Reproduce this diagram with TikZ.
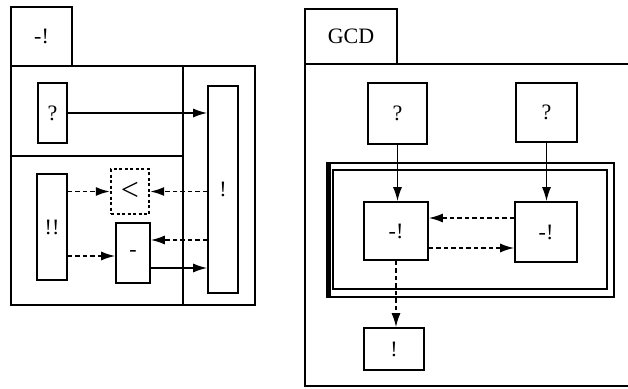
\documentclass[tikz,border=0pt]{standalone}
\usepackage{fontspec}
\setmainfont{Liberation Serif}
\usetikzlibrary{arrows.meta}
\tikzset{
  blk/.style={draw,line width=1.6pt,inner sep=0pt,font=\fontsize{22}{26}\selectfont},
  dblk/.style={blk,line width=2.4pt,dash pattern=on 3pt off 2.5pt},
  flow/.style={line width=1.6pt,-{Latex[length=14pt,width=9pt]}},
  dflow/.style={flow,dash pattern=on 4.5pt off 3pt},
  frame/.style={line width=1.6pt}
}
\begin{document}
\begin{tikzpicture}
[x=1pt,y=-1pt]
\useasboundingbox (0,0) rectangle (628,388);

\node[blk,minimum width=61,minimum height=59] (tabL) at (41.5,36.5) {-!};
\draw[frame] (11,66) rectangle (255,305);
\draw[frame] (183,66) -- (183,305);
\draw[frame] (11,156) -- (183,156);

\node[blk,minimum width=29,minimum height=60] (q) at (52.5,113) {?};
\node[blk,minimum width=30,minimum height=207] (bang) at (223,189.5) {!};
\node[blk,minimum width=30,minimum height=106] (dbang) at (52,227) {!!};
\node[dblk,minimum width=38,minimum height=45,font=\fontsize{32}{32}\selectfont] (lt) at (130,191.5) {<};
\node[blk,minimum width=34,minimum height=60] (minus) at (133,253) {-};

\draw[flow] (q.east) -- (q.east -| bang.west);
\draw[dflow] (lt.west -| dbang.east) -- (lt.west);
\draw[dflow] (lt.east -| bang.west) -- (lt.east);
\draw[dflow] ([yshift=13pt]minus.east -| bang.west) -- ([yshift=13pt]minus.east);
\draw[dflow] ([yshift=-3pt]minus.west -| dbang.east) -- ([yshift=-3pt]minus.west);
\draw[flow] ([yshift=-15pt]minus.east) -- ([yshift=-15pt]minus.east -| bang.west);

\node[blk,minimum width=92,minimum height=55] (tabR) at (351,36.5) {GCD};
\draw[frame] (629,64) -- (305,64) -- (305,386) -- (629,386);

\node[blk,minimum width=59,minimum height=61] (qa) at (397.5,113.5) {?};
\node[blk,minimum width=61,minimum height=59] (qb) at (546.5,112.5) {?};
\draw[frame,line width=2pt] (327,163) rectangle (614,297);
\draw[line width=4.5pt] (328.5,163) -- (328.5,297);
\draw[frame] (333,170) rectangle (607,289);
\node[blk,minimum width=64,minimum height=58] (na) at (396,231) {-!};
\node[blk,minimum width=62,minimum height=60] (nb) at (546,232) {-!};
\node[blk,minimum width=60,minimum height=42] (ex) at (394,349) {!};

\foreach \from/\to in {qa/na,qb/nb}
\draw[flow] (\from.south) -- (\from.south |- \to.north);
\draw[dflow] ([yshift=14pt]nb.west) -- ([yshift=14pt]nb.west -| na.east);
\draw[dflow] ([yshift=-17pt]na.east) -- ([yshift=-17pt]na.east -| nb.west);
\draw[dflow] (na.south) -- (na.south |- ex.north);
\end{tikzpicture}
\end{document}
